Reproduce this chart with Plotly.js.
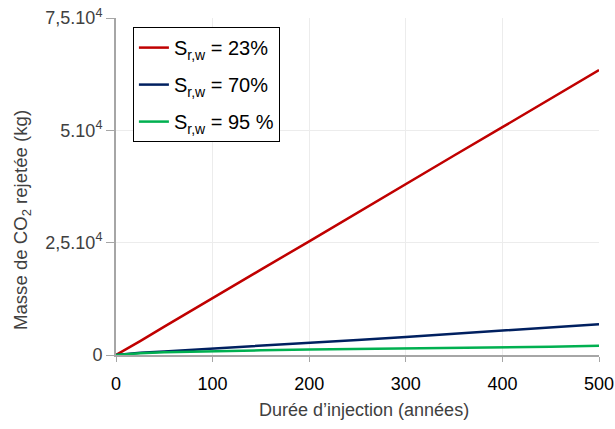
<!DOCTYPE html>
<html><head><meta charset="utf-8">
<script src="https://cdn.plot.ly/plotly-3.0.1.min.js"></script>
<style>body{margin:0;padding:0;background:#fff}#chart{width:615px;height:429px}</style>
</head><body><div id="chart"></div>
<script>
const years = [0, 10, 25, 50, 75, 100, 150, 200, 250, 300, 350, 400, 450, 500];
const red23 = [0, 1200, 3100, 6300, 9500, 12700, 19000, 25300, 31700, 38000, 44400, 50700, 57100, 63400];
const blue70 = [0, 250, 500, 800, 1100, 1450, 2000, 2750, 3350, 4000, 4700, 5450, 6150, 6850];
const green95 = [0, 200, 400, 600, 750, 880, 1050, 1200, 1300, 1420, 1530, 1650, 1850, 2050];
const names = ["S<sub>r,w</sub> = 23%", "S<sub>r,w</sub> = 70%", "S<sub>r,w</sub> = 95 %"];
const yTickVals = [0, 25000, 50000, 75000];
const yTickText = ["0", "2,5.10<sup>4</sup>", "5.10<sup>4</sup>", "7,5.10<sup>4</sup>"];
const xTickVals = [0, 100, 200, 300, 400, 500];
const xTitle = "Durée d’injection (années)";
const yTitle = "Masse de CO<sub>2</sub> rejetée (kg)";

const colors = ["#c00000", "#002060", "#00b050"];
const series = [red23, blue70, green95];
const traces = series.map((s, i) => ({
  x: years, y: s, type: "scatter", mode: "lines", name: names[i], legendgroup: "g" + i,
  line: {color: colors[i], width: 2.5}
}));
const fontFam = "Liberation Sans, Arial, sans-serif";
const layout = {
  width: 615, height: 429,
  margin: {l: 116, r: 16, t: 18, b: 74},
  paper_bgcolor: "#fff", plot_bgcolor: "#fff",
  font: {family: fontFam, color: "#404040", size: 17},
  showlegend: true,
  legend: {x: 0.035, y: 0.973, xanchor: "left", yanchor: "top",
    bordercolor: "#000", borderwidth: 1, bgcolor: "#fff",
    font: {family: fontFam, size: 20, color: "#000"}, tracegroupgap: 8, itemwidth: 30},
  xaxis: {range: [0, 500], tickvals: xTickVals, ticks: "outside", ticklen: 5,
    tickcolor: "#a6a6a6", showline: true, linecolor: "#a6a6a6", linewidth: 2,
    showgrid: true, gridcolor: "#ececec", zeroline: false, ticklabelstandoff: 6,
    tickfont: {size: 18, color: "#000"}},
  yaxis: {range: [0, 75000], tickvals: yTickVals, ticktext: yTickText, ticks: "outside", ticklen: 8,
    tickcolor: "#a6a6a6", showline: true, linecolor: "#a6a6a6", linewidth: 2,
    showgrid: true, gridcolor: "#ececec", zeroline: false,
    tickfont: {size: 18, color: "#404040"}},
  annotations: [
    {text: xTitle, xref: "paper", yref: "paper", x: 0.513, y: -0.163, xanchor: "center", yanchor: "middle",
     showarrow: false, font: {size: 18, color: "#404040"}},
    {text: yTitle, xref: "paper", yref: "paper", x: -0.195, y: 0.40, xanchor: "center", yanchor: "middle",
     textangle: -90, showarrow: false, font: {size: 18.6, color: "#404040"}}
  ]
};
Plotly.newPlot("chart", traces, layout, {displayModeBar: false, staticPlot: true});
</script></body></html>
